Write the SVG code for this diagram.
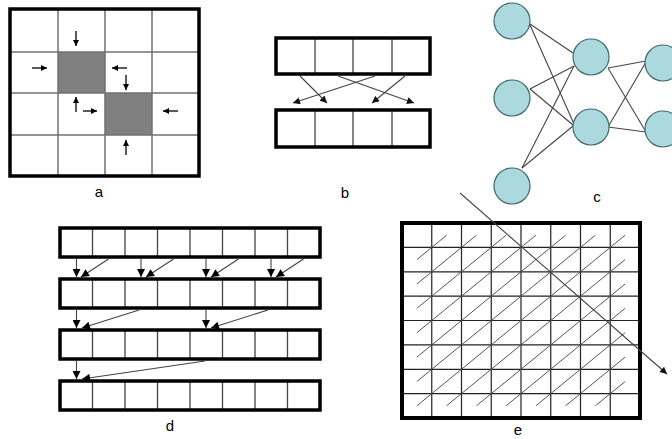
<svg xmlns="http://www.w3.org/2000/svg" width="672" height="439" viewBox="0 0 672 439">
<defs>
<style>
.frame{fill:none;stroke:#000;stroke-width:3.5}
.gridA{stroke:#707070;stroke-width:1.5}
.div{stroke:#444;stroke-width:1.3}
.gridE{stroke:#222;stroke-width:1.2}
.scan{stroke:#555;stroke-width:1;fill:none}
.arr{stroke:#000;stroke-width:1.3;fill:none}
.conn{stroke:#444;stroke-width:1.1;fill:none}
.node{fill:#acd9dd;stroke:#3f6a6e;stroke-width:1.2}
.lbl{font-family:"Liberation Sans",Arial,sans-serif;font-size:15px;fill:#000;text-anchor:middle}
</style>
<marker id="ah" viewBox="0 0 10 10" refX="10" refY="5" markerWidth="6" markerHeight="6" markerUnits="userSpaceOnUse" orient="auto"><path d="M0,0 L10,5 L0,10 z" fill="#000"/></marker>
<marker id="ah2" viewBox="0 0 10 10" refX="10" refY="5" markerWidth="8" markerHeight="7" markerUnits="userSpaceOnUse" orient="auto"><path d="M0,0 L10,5 L0,10 z" fill="#111"/></marker>
<marker id="ah3" viewBox="0 0 10 10" refX="10" refY="5" markerWidth="9" markerHeight="8" markerUnits="userSpaceOnUse" orient="auto"><path d="M0,0 L10,5 L0,10 z" fill="#000"/></marker>
</defs>
<rect width="672" height="439" fill="#fff"/>

<g id="panel-a">
<rect x="58" y="52" width="47" height="41" fill="#808080"/>
<rect x="105" y="93" width="47" height="42" fill="#808080"/>
<line class="gridA" x1="58" y1="9" x2="58" y2="176"/>
<line class="gridA" x1="105" y1="9" x2="105" y2="176"/>
<line class="gridA" x1="152" y1="9" x2="152" y2="176"/>
<line class="gridA" x1="10" y1="52" x2="199" y2="52"/>
<line class="gridA" x1="10" y1="93" x2="199" y2="93"/>
<line class="gridA" x1="10" y1="135" x2="199" y2="135"/>
<rect class="frame" x="10" y="9" width="189" height="167"/>
<g id="a-arrows">
<line class="arr" x1="76" y1="31" x2="76" y2="46" marker-end="url(#ah)"/>
<line class="arr" x1="32" y1="68" x2="47" y2="68" marker-end="url(#ah)"/>
<line class="arr" x1="127" y1="68" x2="112" y2="68" marker-end="url(#ah)"/>
<line class="arr" x1="126" y1="75" x2="126" y2="90" marker-end="url(#ah)"/>
<line class="arr" x1="76" y1="112" x2="76" y2="97" marker-end="url(#ah)"/>
<line class="arr" x1="83" y1="111" x2="97" y2="111" marker-end="url(#ah)"/>
<line class="arr" x1="178" y1="111" x2="163" y2="111" marker-end="url(#ah)"/>
<line class="arr" x1="126" y1="155" x2="126" y2="140" marker-end="url(#ah)"/>
</g>
<text class="lbl" x="99" y="197">a</text>
</g>

<g id="panel-b">
<g id="b-top">
<line class="div" x1="315" y1="38" x2="315" y2="74"/>
<line class="div" x1="353" y1="38" x2="353" y2="74"/>
<line class="div" x1="392" y1="38" x2="392" y2="74"/>
<rect class="frame" x="276" y="38" width="154" height="36"/>
</g>
<g id="b-bottom">
<line class="div" x1="315" y1="110" x2="315" y2="147"/>
<line class="div" x1="353" y1="110" x2="353" y2="147"/>
<line class="div" x1="392" y1="110" x2="392" y2="147"/>
<rect class="frame" x="276" y="110" width="154" height="37"/>
</g>
<g id="b-connectors">
<line class="conn" x1="300" y1="76" x2="327" y2="103" marker-end="url(#ah2)"/>
<line class="conn" x1="338" y1="76" x2="414" y2="103" marker-end="url(#ah2)"/>
<line class="conn" x1="375" y1="76" x2="293" y2="103" marker-end="url(#ah2)"/>
<line class="conn" x1="405" y1="76" x2="372" y2="103" marker-end="url(#ah2)"/>
</g>
<text class="lbl" x="345" y="198">b</text>
</g>

<g id="panel-c">
<g id="c-connectors">
<line class="conn" x1="530" y1="24" x2="573" y2="53"/>
<line class="conn" x1="530" y1="25" x2="574" y2="124"/>
<line class="conn" x1="530" y1="89" x2="574" y2="66"/>
<line class="conn" x1="530" y1="89" x2="573" y2="125"/>
<line class="conn" x1="522" y1="168" x2="574" y2="66"/>
<line class="conn" x1="522" y1="168" x2="573" y2="126"/>
<line class="conn" x1="608" y1="68" x2="646" y2="61"/>
<line class="conn" x1="608" y1="68" x2="646" y2="132"/>
<line class="conn" x1="608" y1="127" x2="646" y2="62"/>
<line class="conn" x1="608" y1="127" x2="646" y2="132"/>
</g>
<g id="c-L1"><circle class="node" cx="512" cy="21" r="18"/></g>
<g id="c-L2"><circle class="node" cx="512" cy="98" r="18"/></g>
<g id="c-L3"><circle class="node" cx="512" cy="186" r="18"/></g>
<g id="c-M1"><circle class="node" cx="591" cy="57" r="18"/></g>
<g id="c-M2"><circle class="node" cx="591" cy="127" r="18"/></g>
<g id="c-R1"><circle class="node" cx="663" cy="63" r="18"/></g>
<g id="c-R2"><circle class="node" cx="663" cy="129" r="18"/></g>
<text class="lbl" x="597" y="202">c</text>
</g>

<g id="panel-d">
<g id="d-row1">
<path class="div" d="M92.5,228V257M125,228V257M157.5,228V257M190,228V257M222.5,228V257M255,228V257M287.5,228V257"/>
<rect class="frame" x="60" y="228" width="260" height="29"/>
</g>
<g id="d-row2">
<path class="div" d="M92.5,279V308M125,279V308M157.5,279V308M190,279V308M222.5,279V308M255,279V308M287.5,279V308"/>
<rect class="frame" x="60" y="279" width="260" height="29"/>
</g>
<g id="d-row3">
<path class="div" d="M92.5,330V359M125,330V359M157.5,330V359M190,330V359M222.5,330V359M255,330V359M287.5,330V359"/>
<rect class="frame" x="60" y="330" width="260" height="29"/>
</g>
<g id="d-row4">
<path class="div" d="M92.5,381V410M125,381V410M157.5,381V410M190,381V410M222.5,381V410M255,381V410M287.5,381V410"/>
<rect class="frame" x="60" y="381" width="260" height="29"/>
</g>
<g id="d-connectors">
<line class="conn" x1="76.5" y1="259" x2="76.5" y2="277" marker-end="url(#ah3)"/>
<line class="conn" x1="108.5" y1="259" x2="81" y2="277" marker-end="url(#ah3)"/>
<line class="conn" x1="141" y1="259" x2="141" y2="277" marker-end="url(#ah3)"/>
<line class="conn" x1="173.5" y1="259" x2="146" y2="277" marker-end="url(#ah3)"/>
<line class="conn" x1="206" y1="259" x2="206" y2="277" marker-end="url(#ah3)"/>
<line class="conn" x1="238.5" y1="259" x2="211" y2="277" marker-end="url(#ah3)"/>
<line class="conn" x1="271" y1="259" x2="271" y2="277" marker-end="url(#ah3)"/>
<line class="conn" x1="303.5" y1="259" x2="276" y2="277" marker-end="url(#ah3)"/>
<line class="conn" x1="76.5" y1="310" x2="76.5" y2="328" marker-end="url(#ah3)"/>
<line class="conn" x1="139" y1="310" x2="82" y2="328" marker-end="url(#ah3)"/>
<line class="conn" x1="206" y1="310" x2="206" y2="328" marker-end="url(#ah3)"/>
<line class="conn" x1="268" y1="310" x2="211" y2="328" marker-end="url(#ah3)"/>
<line class="conn" x1="76.5" y1="361" x2="76.5" y2="379" marker-end="url(#ah3)"/>
<line class="conn" x1="205" y1="361" x2="82" y2="379" marker-end="url(#ah3)"/>
</g>
<text class="lbl" x="170" y="431">d</text>
</g>

<g id="panel-e">
<path class="gridE" d="M431.75,223V418M461.5,223V418M491.25,223V418M521,223V418M550.75,223V418M580.5,223V418M610.25,223V418"/>
<path class="gridE" d="M402,247.4H640M402,271.8H640M402,296.1H640M402,320.5H640M402,344.9H640M402,369.3H640M402,393.6H640"/>
<g id="e-scan">
<line class="scan" x1="416.9" y1="259.6" x2="446.6" y2="235.2"/>
<line class="scan" x1="416.9" y1="284" x2="476.4" y2="235.2"/>
<line class="scan" x1="416.9" y1="308.3" x2="506.1" y2="235.2"/>
<line class="scan" x1="416.9" y1="332.7" x2="535.9" y2="235.2"/>
<line class="scan" x1="416.9" y1="357.1" x2="565.6" y2="235.2"/>
<line class="scan" x1="416.9" y1="381.5" x2="595.4" y2="235.2"/>
<line class="scan" x1="416.9" y1="405.8" x2="625.1" y2="235.2"/>
<line class="scan" x1="446.6" y1="405.8" x2="625.1" y2="259.6"/>
<line class="scan" x1="476.4" y1="405.8" x2="625.1" y2="284"/>
<line class="scan" x1="506.1" y1="405.8" x2="625.1" y2="308.3"/>
<line class="scan" x1="535.9" y1="405.8" x2="625.1" y2="332.7"/>
<line class="scan" x1="565.6" y1="405.8" x2="625.1" y2="357.1"/>
<line class="scan" x1="595.4" y1="405.8" x2="625.1" y2="381.5"/>
</g>
<rect x="402" y="223" width="238" height="195" fill="none" stroke="#000" stroke-width="4"/>
<line class="conn" x1="460" y1="193" x2="667" y2="374" stroke="#333" stroke-width="1.3" marker-end="url(#ah2)"/>
<text class="lbl" x="518" y="435">e</text>
</g>
</svg>
